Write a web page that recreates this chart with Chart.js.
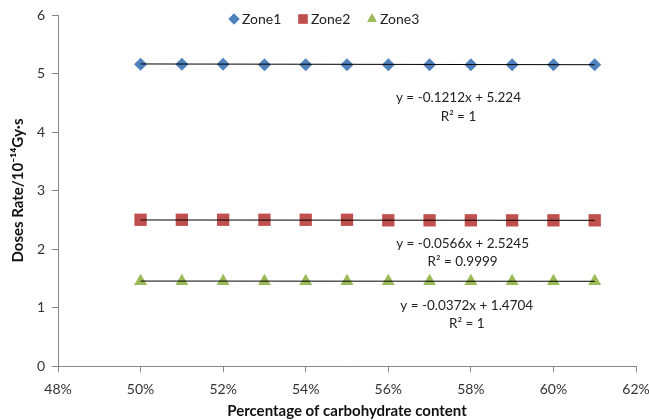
<!DOCTYPE html>
<html><head><meta charset="utf-8">
<script src="https://cdn.jsdelivr.net/npm/chart.js@4/dist/chart.umd.min.js"></script>
<style>html,body{margin:0;padding:0;background:#fff}#wrap{width:649px;height:420px}</style>
</head><body><div id="wrap"><canvas id="c" width="649" height="420"></canvas></div>
<script>
const xPercent = [50, 51, 52, 53, 54, 55, 56, 57, 58, 59, 60, 61];
const zone1 = [5.16, 5.16, 5.16, 5.15, 5.15, 5.15, 5.15, 5.15, 5.15, 5.15, 5.15, 5.15];
const zone2 = [2.50, 2.50, 2.50, 2.50, 2.50, 2.50, 2.49, 2.49, 2.49, 2.49, 2.49, 2.49];
const zone3 = [1.45, 1.45, 1.45, 1.45, 1.45, 1.45, 1.45, 1.45, 1.45, 1.45, 1.45, 1.45];
const trendX = [50, 61];
const trend1 = [5.163, 5.150];
const trend2 = [2.496, 2.490];
const trend3 = [1.452, 1.448];
const seriesNames = ['Zone1', 'Zone2', 'Zone3'];
const equations = [
  ['y = -0.1212x + 5.224', 'R² = 1'],
  ['y = -0.0566x + 2.5245', 'R² = 0.9999'],
  ['y = -0.0372x + 1.4704', 'R² = 1']
];
const eqPos = [[57.7, 4.58], [57.8, 2.10], [57.9, 1.04]];

const colors = ['#4F81BD', '#C0504D', '#9BBB59'];
const shapes = ['rectRot', 'rect', 'triangle'];
const radii = [6.5, 8.7, 7.5];
const FONT = 'Lato, "Open Sans", sans-serif';

const pts = (xs, ys) => xs.map((x, i) => ({x, y: ys[i]}));
const datasets = [];
[zone1, zone2, zone3].forEach((d, i) => {
  datasets.push({label: seriesNames[i], data: pts(xPercent, d), showLine: false,
    pointStyle: shapes[i], pointRadius: radii[i], pointHoverRadius: radii[i],
    backgroundColor: colors[i], borderColor: colors[i], borderWidth: 0, order: 2});
});
[trend1, trend2, trend3].forEach((d) => {
  datasets.push({label: '', data: pts(trendX, d), showLine: true, pointRadius: 0,
    borderColor: '#000', borderWidth: 1, backgroundColor: '#000', order: 1});
});

const overlay = {
  id: 'overlay',
  afterDatasetsDraw(chart) {
    const ctx = chart.ctx, xs = chart.scales.x, ys = chart.scales.y;
    ctx.save();
    ctx.fillStyle = '#222';
    ctx.font = '13.5px ' + FONT;
    ctx.textAlign = 'center';
    ctx.textBaseline = 'middle';
    equations.forEach((eq, i) => {
      const px = xs.getPixelForValue(eqPos[i][0]);
      const py = ys.getPixelForValue(eqPos[i][1]);
      ctx.fillText(eq[0], px, py);
      ctx.fillText(eq[1], px, py + 18.5);
    });
    // legend
    const lx = [234, 303, 372];
    const lr = [5.5, 6.5, 5.5];
    ctx.textAlign = 'left';
    ctx.font = '14px ' + FONT;
    seriesNames.forEach((n, i) => {
      ctx.fillStyle = colors[i];
      ctx.beginPath();
      Chart.helpers.drawPoint(ctx, {pointStyle: shapes[i], radius: lr[i], borderWidth: 0}, lx[i], 19);
      ctx.fill();
      ctx.fillStyle = '#222';
      ctx.fillText(n, lx[i] + 8, 19);
    });
    ctx.restore();
  }
};

new Chart(document.getElementById('c'), {
  type: 'scatter',
  data: {datasets},
  options: {
    responsive: false, animation: false,
    layout: {padding: {top: 15, right: 13, left: 0, bottom: 0}},
    plugins: {legend: {display: false}, tooltip: {enabled: false}},
    scales: {
      x: {
        type: 'linear', min: 48, max: 62,
        afterFit(s) { s.height = 54; s.paddingRight = 0; s.paddingLeft = 0; },
        ticks: {stepSize: 2, color: '#333', font: {family: FONT, size: 14}, padding: 9,
          callback: v => v + '%'},
        grid: {drawOnChartArea: false, tickLength: 6, color: '#868686'},
        border: {color: '#868686'},
        title: {display: true, text: 'Percentage of carbohydrate content', color: '#111',
          font: {family: FONT, size: 15, weight: 'bold'}, padding: {top: 0, bottom: 0}}
      },
      y: {
        min: 0, max: 6,
        afterFit(s) { s.width = 58; s.paddingTop = 0; s.paddingBottom = 0; },
        ticks: {stepSize: 1, color: '#333', font: {family: FONT, size: 14}, padding: 7},
        grid: {drawOnChartArea: false, tickLength: 6, color: '#868686'},
        border: {color: '#868686'},
        title: {display: true, text: 'Doses Rate/10⁻¹⁴Gy·s', color: '#111',
          font: {family: FONT, size: 15, weight: 'bold'}, padding: {top: 9, bottom: 0}}
      }
    }
  },
  plugins: [overlay]
});
</script></body></html>
